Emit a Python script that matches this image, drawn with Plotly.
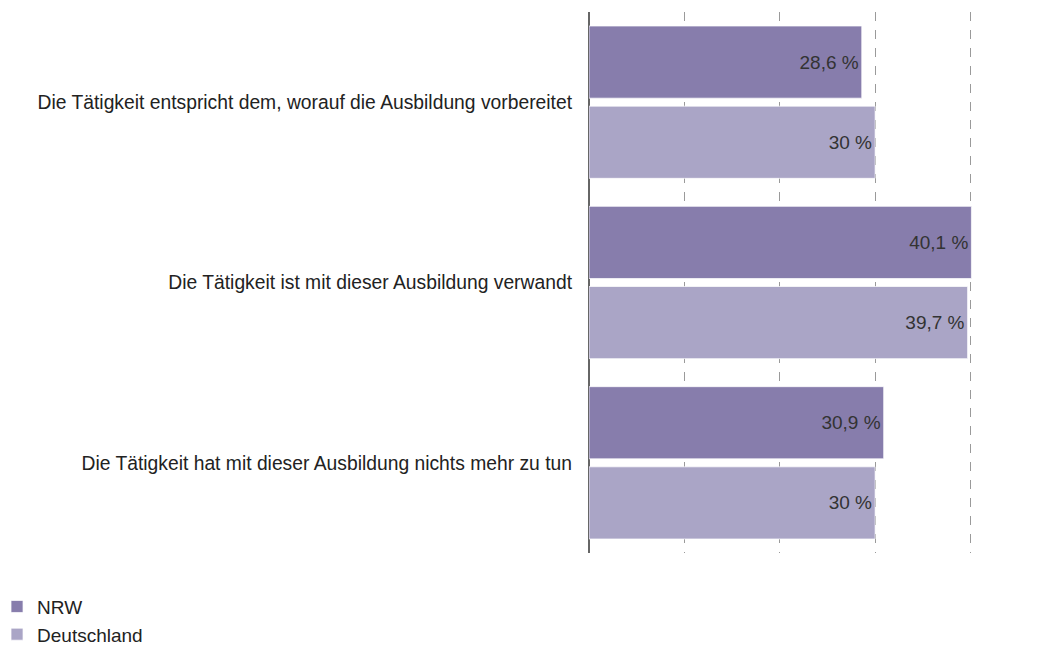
import plotly.graph_objects as go

categories = [
    "Die Tätigkeit entspricht dem, worauf die Ausbildung vorbereitet",
    "Die Tätigkeit ist mit dieser Ausbildung verwandt",
    "Die Tätigkeit hat mit dieser Ausbildung nichts mehr zu tun",
]
nrw = [28.6, 40.1, 30.9]
deutschland = [30.0, 39.7, 30.0]
series_names = ["NRW", "Deutschland"]
grid_ticks = [0, 10, 20, 30, 40]


def fmt(v):
    s = f"{v:.1f}".rstrip("0").rstrip(".")
    return s.replace(".", ",") + " %"


colors = ["#877dac", "#aaa5c6"]
fig = go.Figure()
for name, vals, col in zip(series_names, [nrw, deutschland], colors):
    fig.add_trace(go.Bar(
        y=categories, x=vals, orientation="h", name=name,
        marker=dict(color=col, line=dict(color="rgba(255,255,255,0.7)", width=1)),
        text=[fmt(v) for v in vals], textposition="inside", insidetextanchor="end",
        textfont=dict(family="Liberation Sans, Arial, sans-serif", size=19, color="#333333"),
        textangle=0, cliponaxis=False,
    ))

fig.update_layout(
    width=1042, height=639,
    margin=dict(l=581, r=70, t=4, b=94, autoexpand=False),
    paper_bgcolor="white", plot_bgcolor="white",
    barmode="group", bargap=0.111, bargroupgap=0.1,
    font=dict(family="Liberation Sans, Arial, sans-serif", size=19.3, color="#222222"),
    uniformtext=dict(mode="show", minsize=10),
    showlegend=True,
    legend=dict(
        orientation="v", xref="paper", yref="paper",
        x=-1.514, y=-0.186, xanchor="left", yanchor="bottom",
        font=dict(size=19, color="#222222"), traceorder="normal",
        itemwidth=30, tracegroupgap=0, bgcolor="rgba(0,0,0,0)",
    ),
    xaxis=dict(
        range=[0, 41], tickvals=grid_ticks, showticklabels=False,
        showgrid=True, gridcolor="rgba(120,120,120,0.75)", griddash="dash", gridwidth=1,
        zeroline=True, zerolinecolor="#666666", zerolinewidth=1.5,
        showline=False, fixedrange=True, automargin=False, layer="above traces",
    ),
    yaxis=dict(
        autorange="reversed", showgrid=False, zeroline=False, showline=False,
        ticks="", ticklabelstandoff=16, automargin=False,
        tickfont=dict(size=19.3, color="#222222"),
    ),
)

fig.write_html("out.html")
